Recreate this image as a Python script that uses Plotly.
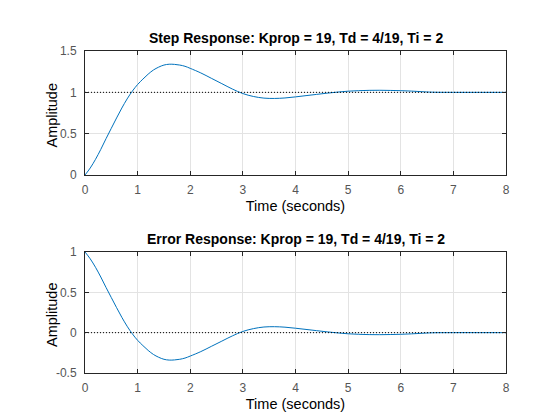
import plotly.graph_objects as go
from plotly.subplots import make_subplots

time_s = [0, 0.1, 0.2, 0.3, 0.4, 0.5, 0.6, 0.7, 0.8, 0.9, 1.0, 1.1, 1.2, 1.3, 1.4,
          1.5, 1.6, 1.7, 1.8, 1.9, 2.0, 2.2, 2.4, 2.6, 2.8, 3.0, 3.2, 3.4, 3.6,
          3.8, 4.0, 4.2, 4.4, 4.6, 4.8, 5.0, 5.2, 5.4, 5.6, 5.8, 6.0, 6.2, 6.4,
          6.6, 7.0, 7.5, 8.0]
step_amp = [0, 0.085, 0.19, 0.31, 0.44, 0.565, 0.69, 0.81, 0.92, 1.015, 1.095,
            1.16, 1.22, 1.27, 1.305, 1.33, 1.34, 1.338, 1.33, 1.315, 1.29,
            1.235, 1.17, 1.105, 1.04, 0.985, 0.95, 0.93, 0.926, 0.932, 0.945,
            0.96, 0.975, 0.99, 1.003, 1.014, 1.02, 1.024, 1.025, 1.023, 1.02,
            1.015, 1.008, 1.002, 1.0, 1.0, 1.0]
error_amp = [1, 0.915, 0.81, 0.69, 0.56, 0.435, 0.31, 0.19, 0.08, -0.015, -0.095,
             -0.16, -0.22, -0.27, -0.305, -0.33, -0.34, -0.338, -0.33, -0.315,
             -0.29, -0.235, -0.17, -0.105, -0.04, 0.015, 0.05, 0.07, 0.074,
             0.068, 0.055, 0.04, 0.025, 0.01, -0.003, -0.014, -0.02, -0.024,
             -0.025, -0.023, -0.02, -0.015, -0.008, -0.002, 0, 0, 0]
step_final = 1.0
error_final = 0.0

titles = ["Step Response: Kprop = 19, Td = 4/19, Ti = 2",
          "Error Response: Kprop = 19, Td = 4/19, Ti = 2"]
y_label = "Amplitude"
x_label = "Time (seconds)"
x_ticks = [0, 1, 2, 3, 4, 5, 6, 7, 8]
step_ticks = [0, 0.5, 1, 1.5]
step_tick_text = ["0", "0.5", "1", "1.5"]
error_ticks = [-0.5, 0, 0.5, 1]
error_tick_text = ["-0.5", "0", "0.5", "1"]

FONT = "Liberation Sans, Arial, Helvetica, sans-serif"
BLUE = "#0072BD"
AX = "#262626"

fig = make_subplots(rows=2, cols=1)

fig.add_trace(go.Scatter(x=time_s, y=step_amp, mode="lines", line=dict(color=BLUE, width=1, shape="spline"),
                         showlegend=False), row=1, col=1)
fig.add_trace(go.Scatter(x=[time_s[0], time_s[-1]], y=[step_final, step_final], mode="lines",
                         line=dict(color="black", width=1, dash="1px,2px"), showlegend=False), row=1, col=1)
fig.add_trace(go.Scatter(x=time_s, y=error_amp, mode="lines", line=dict(color=BLUE, width=1, shape="spline"),
                         showlegend=False), row=2, col=1)
fig.add_trace(go.Scatter(x=[time_s[0], time_s[-1]], y=[error_final, error_final], mode="lines",
                         line=dict(color="black", width=1, dash="1px,2px"), showlegend=False), row=2, col=1)

axis_common = dict(showline=True, linecolor=AX, linewidth=1, mirror="ticks", ticks="inside",
                   ticklen=4, tickcolor=AX, showgrid=True, gridcolor="#e3e3e3", gridwidth=1,
                   zeroline=False, automargin=False,
                   tickfont=dict(family=FONT, size=12, color="#555555"))

for r in (1, 2):
    fig.update_xaxes(range=[0, 8], tickvals=x_ticks, ticktext=[str(v) for v in x_ticks],
                     ticklabelstandoff=4,
                     title=dict(text=x_label, font=dict(family=FONT, size=14.5, color="black"), standoff=4),
                     row=r, col=1, **axis_common)
fig.update_yaxes(range=[0, 1.5], tickvals=step_ticks, ticktext=step_tick_text, ticklabelstandoff=5,
                 row=1, col=1, **axis_common)
fig.update_yaxes(range=[-0.5, 1], tickvals=error_ticks, ticktext=error_tick_text, ticklabelstandoff=5,
                 row=2, col=1, **axis_common)

fig.update_layout(
    width=560, height=420,
    margin=dict(l=77, r=62, t=43, b=55),
    paper_bgcolor="white", plot_bgcolor="white",
    xaxis=dict(domain=[0, 1]), xaxis2=dict(domain=[0, 1]),
    yaxis=dict(domain=[0.6149, 1.0]), yaxis2=dict(domain=[0.0, 0.3758]),
)

for i, (t, xr, yr) in enumerate(zip(titles, ["x domain", "x2 domain"], ["y domain", "y2 domain"])):
    fig.add_annotation(text="<b>" + t + "</b>", xref=xr, yref=yr,
                       x=0.5, y=1, xanchor="center", yanchor="bottom", yshift=3, showarrow=False,
                       font=dict(family=FONT, size=14, color="black"))
    fig.add_annotation(text=y_label, xref=xr, yref=yr, x=-0.0772, y=0.5, textangle=-90,
                       xanchor="center", yanchor="middle", yshift=-2, showarrow=False,
                       font=dict(family=FONT, size=14.5, color="black"))

fig.write_html("out.html")
